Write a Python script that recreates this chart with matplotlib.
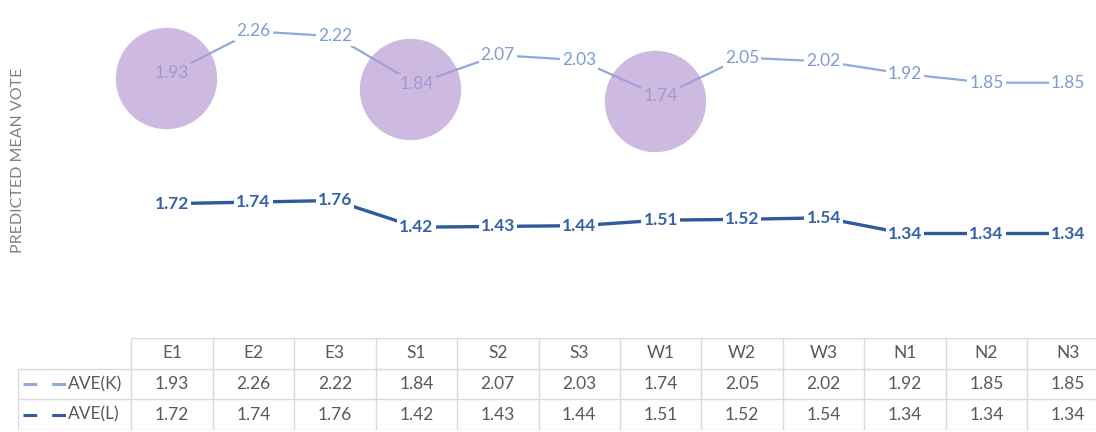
import numpy as np
import matplotlib
matplotlib.use("Agg")
import matplotlib.pyplot as plt
import matplotlib.transforms as mtransforms

plt.rcParams['font.family'] = ['Lato', 'DejaVu Sans']

categories = ["E1", "E2", "E3", "S1", "S2", "S3", "W1", "W2", "W3", "N1", "N2", "N3"]
ave_k = [1.93, 2.26, 2.22, 1.84, 2.07, 2.03, 1.74, 2.05, 2.02, 1.92, 1.85, 1.85]
ave_l = [1.72, 1.74, 1.76, 1.42, 1.43, 1.44, 1.51, 1.52, 1.54, 1.34, 1.34, 1.34]
series_names = ["AVE(K)", "AVE(L)"]
highlighted = [0, 3, 6]  # points circled on the K line

K_COLOR = "#8eaadb"
K_TEXT = "#7f9bd3"
L_COLOR = "#2f5a9e"
L_TEXT = "#3563a6"
GRID = "#d9d9d9"
TXT = "#595959"

W, H = 1096, 432
fig = plt.figure(figsize=(W / 100, H / 100), dpi=100)

# pixel layout helpers
col0, colw = 172.0, 81.45          # x of first category centre, column width
def fx(px):
    return px / W
def fy(py):
    return 1 - py / H

x = np.arange(len(categories))
xlim = (-0.5, len(categories) - 0.5)
left_px = col0 - 0.5 * colw
right_px = col0 + (len(categories) - 0.5) * colw

ax = fig.add_axes([fx(left_px), fy(310), (right_px - left_px) / W, 310 / H])
ax.set_xlim(*xlim)
ax.set_ylim(0.0374, 2.5094)
ax2 = ax.twinx()
ax2.set_ylim(0.3668, 4.3107)
for a in (ax, ax2):
    a.set_xlim(*xlim)
    a.axis("off")

ax.plot(x, ave_k, color=K_COLOR, lw=1.6, zorder=2, solid_capstyle="butt")
ax2.plot(x, ave_l, color=L_COLOR, lw=2.4, zorder=2, solid_capstyle="butt")

box = dict(boxstyle="square,pad=0.12", fc="white", ec="none")
for xi, v in zip(x, ave_k):
    ax.text(xi, v, f"{v:.2f}", ha="center", va="center", fontsize=12.5,
            color=K_TEXT, bbox=box, zorder=3)
for xi, v in zip(x, ave_l):
    ax2.text(xi, v, f"{v:.2f}", ha="center", va="center", fontsize=12.5,
             fontweight="bold", color=L_TEXT, bbox=box, zorder=3)

# translucent circles over the highlighted K points
shift = mtransforms.ScaledTranslation(-6 / 100, -5 / 100, fig.dpi_scale_trans)
ax.scatter([x[i] for i in highlighted], [ave_k[i] for i in highlighted],
           s=73 ** 2, color="#b596d2", alpha=0.65, lw=0, zorder=4,
           transform=ax.transData + shift, clip_on=False)

fig.text(fx(18), fy(160), "PREDICTED MEAN VOTE", rotation=90, ha="center",
         va="center", fontsize=11.5, color="#808080")

# data table underneath
tleft_px = 18
tax = fig.add_axes([fx(tleft_px), fy(430), (right_px - tleft_px) / W, 92 / H])
tx0 = (tleft_px - col0) / colw
tax.set_xlim(tx0, xlim[1])
tax.set_ylim(0, 3)
tax.axis("off")

lkw = dict(color=GRID, lw=1.0, solid_capstyle="butt")
tax.plot([xlim[0], xlim[1]], [3, 3], **lkw)
for yy in (2, 1, 0):
    tax.plot([tx0, xlim[1]], [yy, yy], **lkw)
for k in range(len(categories) + 1):
    tax.plot([xlim[0] + k] * 2, [0, 3], **lkw)
tax.plot([tx0, tx0], [0, 2], **lkw)

for xi, c in zip(x, categories):
    tax.text(xi, 2.5, c, ha="center", va="center", fontsize=12.5, color=TXT)
for row, (vals, name, col) in enumerate(zip((ave_k, ave_l), series_names,
                                            (K_COLOR, L_COLOR))):
    yy = 1.5 - row
    for xi, v in zip(x, vals):
        tax.text(xi, yy, f"{v:.2f}", ha="center", va="center", fontsize=12.5,
                 color=TXT)
    kx0 = (23 - col0) / colw
    kx1 = (67 - col0) / colw
    tax.plot([kx0, kx1], [yy, yy], color=col, lw=2.2, dashes=(4.5, 4.9),
             solid_capstyle="butt", dash_capstyle="butt")
    tax.text(kx1 + 0.01, yy, name, ha="left", va="center", fontsize=12.5,
             color=TXT)

fig.savefig("out.png", dpi=100)
